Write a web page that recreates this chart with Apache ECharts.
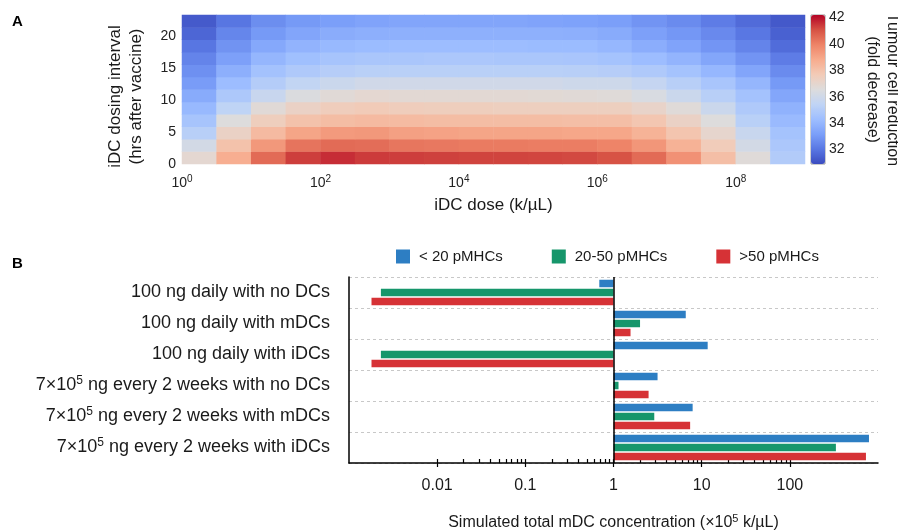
<!DOCTYPE html>
<html><head><meta charset="utf-8">
<script src="https://cdn.jsdelivr.net/npm/echarts@6/dist/echarts.min.js"></script>
<style>html,body{margin:0;padding:0;background:#fff}#c{width:898px;height:530px}</style>
</head><body><div id="c"></div>
<script>
// ---------- Panel A data ----------
const doseLogCentres = [0.25,0.75,1.25,1.75,2.25,2.75,3.25,3.75,4.25,4.75,5.25,5.75,6.25,6.75,7.25,7.75,8.25,8.75];
const intervalCentres = [0.97,2.91,4.85,6.80,8.74,10.68,12.62,14.56,16.50,18.45,20.39,22.33];
// rows: bottom (short interval) -> top; columns: low dose -> high dose
const tumourReduction = [
  [36.9,38.72,40.5,41.36,41.6,41.4,41.36,41.32,41.28,41.28,41.24,41.2,41.04,40.5,39.56,38.15,36.67,34.97],
  [36.13,38.0,39.38,40.3,40.5,40.45,40.25,40.2,40.15,40.15,40.1,40.1,39.95,39.44,38.6,37.6,36.13,34.75],
  [35.14,37.25,38.3,39.02,39.32,39.38,39.14,39.08,39.02,39.02,39.02,38.96,38.96,38.55,37.9,37.02,35.72,34.53],
  [34.59,36.55,37.49,38.0,38.2,38.3,38.25,38.2,38.2,38.2,38.2,38.15,38.15,37.85,37.25,36.55,35.19,34.15],
  [34.1,35.4,36.73,37.25,37.54,37.65,37.54,37.49,37.49,37.43,37.43,37.43,37.43,37.14,36.67,35.82,34.86,33.84],
  [33.58,34.8,35.72,36.44,36.73,36.9,36.84,36.84,36.84,36.84,36.78,36.73,36.67,36.34,35.82,35.14,34.48,33.42],
  [33.08,34.26,35.03,35.51,35.82,36.03,36.03,36.03,36.03,36.03,36.03,35.92,35.92,35.61,35.14,34.64,33.99,33.01],
  [32.74,33.73,34.48,34.86,35.08,35.19,35.19,35.19,35.19,35.19,35.19,35.14,35.08,34.86,34.53,34.04,33.37,32.59],
  [32.4,33.21,33.99,34.37,34.59,34.7,34.7,34.75,34.75,34.7,34.7,34.64,34.53,34.26,33.94,33.42,32.86,32.18],
  [32.0,32.82,33.47,33.89,34.1,34.2,34.26,34.26,34.26,34.26,34.2,34.2,34.04,33.68,33.32,32.89,32.4,31.73],
  [31.59,32.44,33.01,33.37,33.63,33.73,33.78,33.78,33.78,33.78,33.78,33.73,33.58,33.21,32.93,32.55,32.04,31.44],
  [31.26,32.0,32.67,33.01,33.16,33.32,33.37,33.37,33.37,33.37,33.32,33.26,33.16,32.86,32.59,32.18,31.72,31.23]
];
const doseTickExponents = [0,2,4,6,8];
const intervalTicks = [0,5,10,15,20];
const colourbarTicks = [32,34,36,38,40,42];
const colourMin = 30.9, colourMax = 42.2;
const coolwarm = ['#3b4cc0','#5977e3','#7b9ff9','#9ebeff','#c0d4f5','#dddcdc','#f2cbb7','#f7ac8e','#ee8468','#d65244','#b40426'];

// ---------- Panel B data ----------
const regimens = [
  '100 ng daily with no DCs',
  '100 ng daily with mDCs',
  '100 ng daily with iDCs',
  '7×10⁵ ng every 2 weeks with no DCs',
  '7×10⁵ ng every 2 weeks with mDCs',
  '7×10⁵ ng every 2 weeks with iDCs'
];
const seriesNames = ['< 20 pMHCs','20-50 pMHCs','>50 pMHCs'];
const lowPMHC  = [0.69, 6.6, 11.7, 3.16, 7.9, 790];
const midPMHC  = [0.0023, 2.0, 0.0023, 1.14, 2.9, 333];
const highPMHC = [0.0018, 1.56, 0.0018, 2.5, 7.4, 730];
const concMajorTicks = [0.01,0.1,1,10,100];
const concAllTicks = [0.01,0.02,0.03,0.04,0.05,0.06,0.07,0.08,0.09,
  0.1,0.2,0.3,0.4,0.5,0.6,0.7,0.8,0.9,
  1,2,3,4,5,6,7,8,9,
  10,20,30,40,50,60,70,80,90,100];
const barColours = ['#2d7ec3','#16966b','#d63236'];

const FONT = "'Liberation Sans', Arial, Helvetica, sans-serif";
const TXT = '#1a1a1a';

const heatData = [];
tumourReduction.forEach((row, r) => row.forEach((v, c) => heatData.push([c, r, v])));

function fmtConc(v) {
  if (v >= 1) return String(Math.round(v));
  return String(+v.toPrecision(1));
}

const chart = echarts.init(document.getElementById('c'), null, {renderer: 'canvas'});
chart.setOption({
  animation: false,
  textStyle: {fontFamily: FONT, color: TXT},
  title: [
    {text: 'A', left: 12, top: 14, padding: 0, textStyle: {fontSize: 15, fontWeight: 'bold', color: '#000', fontFamily: FONT}},
    {text: 'B', left: 12, top: 256, padding: 0, textStyle: {fontSize: 15, fontWeight: 'bold', color: '#000', fontFamily: FONT}}
  ],
  grid: [
    {left: 182, top: 15, width: 623, height: 149, outerBoundsMode: 'none', containLabel: false},
    {left: 811, top: 15, width: 14, height: 149, outerBoundsMode: 'none', containLabel: false,
     show: true, borderColor: '#9a9a9a', borderWidth: 1, backgroundColor: 'transparent'},
    {left: 349, top: 277, width: 529, height: 186, outerBoundsMode: 'none', containLabel: false}
  ],
  legend: {
    data: seriesNames, left: 396, top: 249, padding: 0,
    itemWidth: 14, itemHeight: 14, itemGap: 49, icon: 'rect',
    textStyle: {fontSize: 15, color: TXT, fontFamily: FONT, padding: [0, 0, 0, 4]}
  },
  visualMap: {
    type: 'continuous', seriesIndex: 0, min: colourMin, max: colourMax,
    left: 811, top: 15, itemWidth: 14, itemHeight: 149, padding: 0,
    calculable: false, hoverLink: false, text: null, showLabel: false,
    inRange: {color: coolwarm}
  },
  xAxis: [
    {type: 'category', gridIndex: 0, data: doseLogCentres.map(String), show: false},
    {type: 'log', gridIndex: 0, min: 1, max: 1e9, position: 'bottom', logBase: 10,
     axisLine: {show: false}, axisTick: {show: false}, splitLine: {show: false},
     axisLabel: {
       customValues: doseTickExponents.map(e => Math.pow(10, e)),
       margin: 10, fontSize: 14, color: '#222', fontFamily: FONT,
       formatter: v => '10{sup|' + Math.round(Math.log10(v)) + '}',
       rich: {sup: {fontSize: 10, fontFamily: FONT, color: '#222', padding: [0, 0, 8, 0]}}
     },
     name: 'iDC dose (k/µL)', nameLocation: 'middle', nameGap: 33,
     nameTextStyle: {fontSize: 17, color: TXT, fontFamily: FONT}},
    {type: 'value', gridIndex: 1, show: false, min: 0, max: 1},
    {type: 'log', gridIndex: 2, min: 0.001, max: 1000, logBase: 10, position: 'bottom',
     axisLine: {show: true, lineStyle: {color: '#000', width: 1.5}},
     axisTick: {show: true, customValues: concMajorTicks, inside: false, length: 4, lineStyle: {color: '#000', width: 1.2}},
     axisLabel: {customValues: concMajorTicks, formatter: fmtConc, fontSize: 16, margin: 15, color: TXT, fontFamily: FONT},
     splitLine: {show: false},
     name: 'Simulated total mDC concentration (×10{sup|5} k/µL)', nameLocation: 'middle', nameGap: 50,
     nameTextStyle: {fontSize: 16, color: TXT, fontFamily: FONT,
       rich: {sup: {fontSize: 11, fontFamily: FONT, color: TXT, padding: [0, 0, 8, 0]}}}},
    {type: 'log', gridIndex: 2, min: 0.001, max: 1000, logBase: 10, position: 'bottom',
     axisLine: {show: false}, axisLabel: {show: false}, splitLine: {show: false},
     axisTick: {show: true, customValues: concAllTicks, inside: true, length: 4, lineStyle: {color: '#000', width: 1.2}}}
  ],
  yAxis: [
    {type: 'category', gridIndex: 0, data: intervalCentres.map(String), show: false},
    {type: 'value', gridIndex: 0, min: 0, max: 23.3, position: 'left',
     axisLine: {show: false}, axisTick: {show: false}, splitLine: {show: false},
     axisLabel: {customValues: intervalTicks, fontSize: 14, margin: 6, color: '#222', fontFamily: FONT},
     name: 'iDC dosing interval\n(hrs after vaccine)', nameLocation: 'middle', nameRotate: 90, nameGap: 35,
     nameTextStyle: {fontSize: 17, color: TXT, fontFamily: FONT, lineHeight: 21, padding: [0, 14, 0, 0]}},
    {type: 'value', gridIndex: 1, min: colourMin, max: colourMax, position: 'right',
     axisLine: {show: false}, axisTick: {show: false}, splitLine: {show: false},
     axisLabel: {customValues: colourbarTicks, fontSize: 14, margin: 4, color: '#222', fontFamily: FONT},
     name: 'Tumour cell reduction\n(fold decrease)', nameLocation: 'middle', nameRotate: -90, nameGap: 37,
     nameTextStyle: {fontSize: 16, color: TXT, fontFamily: FONT, lineHeight: 20}},
    {type: 'category', gridIndex: 2, data: regimens, inverse: true,
     axisLine: {show: true, lineStyle: {color: '#000', width: 1.5}},
     axisTick: {show: false},
     splitLine: {show: true, interval: 0, lineStyle: {color: '#c8c8c8', type: [3, 3], width: 1}},
     axisLabel: {fontSize: 18, margin: 19, color: TXT, fontFamily: FONT,
       formatter: s => s.replace('⁵', '{sup|5}'),
       rich: {sup: {fontSize: 12, fontFamily: FONT, color: TXT, padding: [0, 0, 9, 0]}}}}
  ],
  series: [
    {type: 'heatmap', xAxisIndex: 0, yAxisIndex: 0, data: heatData, silent: true, progressive: 0,
     itemStyle: {borderWidth: 0}},
    {type: 'bar', name: seriesNames[0], xAxisIndex: 3, yAxisIndex: 3, data: lowPMHC,
     barWidth: 7.5, barGap: '20%', itemStyle: {color: barColours[0]}, silent: true,
     markLine: {silent: true, symbol: 'none', label: {show: false},
       lineStyle: {color: '#000', type: 'solid', width: 1.5}, data: [{xAxis: 1}]}},
    {type: 'bar', name: seriesNames[1], xAxisIndex: 3, yAxisIndex: 3, data: midPMHC,
     barWidth: 7.5, barGap: '20%', itemStyle: {color: barColours[1]}, silent: true},
    {type: 'bar', name: seriesNames[2], xAxisIndex: 3, yAxisIndex: 3, data: highPMHC,
     barWidth: 7.5, barGap: '20%', itemStyle: {color: barColours[2]}, silent: true}
  ]
});
</script></body></html>
